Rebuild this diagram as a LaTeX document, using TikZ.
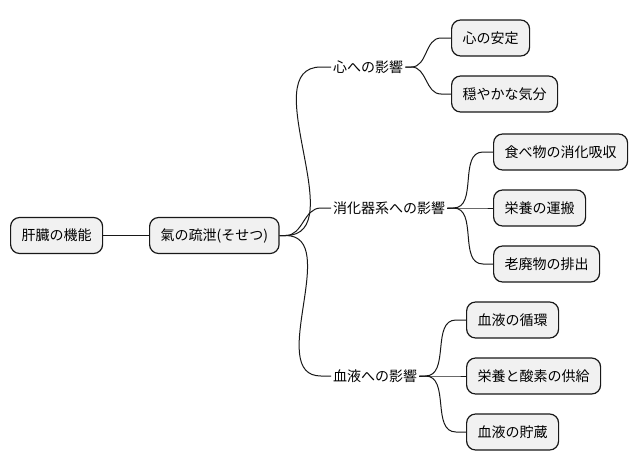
\documentclass[tikz,border=0pt]{standalone}
\usepackage{fontspec}
\newfontfamily\jpfont{Noto Sans CJK JP}
\usepackage{tikz}
\usetikzlibrary{positioning,calc}
\definecolor{boxfill}{HTML}{F1F1F1}
\definecolor{edge}{HTML}{181818}

\begin{document}
\begin{tikzpicture}[x=1pt,y=-1pt,
  box/.style={draw=edge,fill=boxfill,line width=1.2pt,rounded corners=9pt,
    minimum height=36pt,inner xsep=11pt,text=black,
    font=\jpfont\fontsize{14}{16}\selectfont},
  topic/.style={inner sep=2pt,text=black,font=\jpfont\fontsize{14}{16}\selectfont},
  link/.style={draw=edge,line width=1pt}]
\useasboundingbox (0,0) rectangle (636,471);
% root and centre
\node[box,anchor=west] (liver) at (10,235.5) {肝臓の機能};
\node[box,anchor=west] (qi) at (149,235.5) {氣の疏泄(そせつ)};
% second level, no box
\node[topic,anchor=west] (heart) at (331,67) {心への影響};
\node[topic,anchor=west] (digest) at (331,208) {消化器系への影響};
\node[topic,anchor=west] (blood) at (331,376) {血液への影響};
% leaves
\node[box,anchor=west] (calm) at (451,38) {心の安定};
\node[box,anchor=west] (mood) at (451,94) {穏やかな気分};
\node[box,anchor=west] (absorb) at (493,152) {食べ物の消化吸収};
\node[box,anchor=west] (carry) at (493,208) {栄養の運搬};
\node[box,anchor=west] (waste) at (493,264) {老廃物の排出};
\node[box,anchor=west] (flow) at (466,320) {血液の循環};
\node[box,anchor=west] (supply) at (466,376) {栄養と酸素の供給};
\node[box,anchor=west] (store) at (466,432) {血液の貯蔵};
% connectors
\draw[link] (liver) -- (qi);
\foreach \a/\b in {qi/heart,qi/digest,qi/blood,heart/calm,heart/mood,
    digest/absorb,digest/carry,digest/waste,blood/flow,blood/supply,blood/store}
  \draw[link] (\a.east) -- ++(6,0) to[out=0,in=180] ($(\b.west)+(-10,0)$) -- (\b.west);
\end{tikzpicture}
\end{document}
